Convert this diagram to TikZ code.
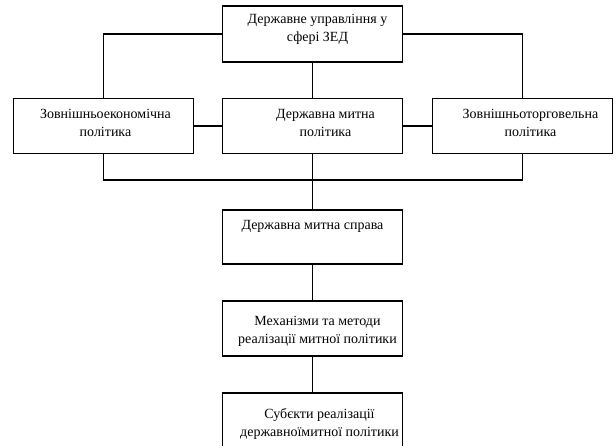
\documentclass[tikz,border=0pt]{standalone}
\usepackage{fontspec}
\setmainfont{Liberation Serif}
\usetikzlibrary{positioning}
\tikzset{
  blok/.style={draw, line width=1.6pt, minimum width=180pt, minimum height=55pt, inner sep=0pt},
  napys/.style={align=center, inner sep=0pt, font=\fontsize{14}{18}\selectfont},
}
\begin{document}
\begin{tikzpicture}[x=1pt, y=-1pt, line width=1.6pt]
  \useasboundingbox (0,0) rectangle (616,446);
  \clip (0,0) rectangle (616,446);
  % верхній рівень
  \node[blok, minimum height=56pt] (uprav) at (312.5,34) {};
  % три політики
  \node[blok] (econ) at (103.5,126) {};
  \node[blok] (mytna) at (312.5,126) {};
  \node[blok] (torg) at (522.5,126) {};
  % нижня гілка
  \node[blok, minimum height=54pt] (sprava) at (312.5,237) {};
  \node[blok] (metody) at (312.5,328.5) {};
  \node[blok, minimum height=80pt] (subj) at (312.5,433) {};
  % написи
  \node[napys, below=8pt of uprav.north, xshift=5pt] (uprav-t) {Державне управління у\\сфері ЗЕД};
  \node[napys, below=11pt of econ.north, xshift=2pt] (econ-t) {Зовнішньоекономічна\\політика};
  \node[napys, below=11pt of mytna.north, xshift=13pt] (mytna-t) {Державна митна\\політика};
  \node[napys, below=11pt of torg.north, xshift=8pt] (torg-t) {Зовнішньоторговельна\\політика};
  \node[napys, below=10pt of sprava.north] (sprava-t) {Державна митна справа};
  \node[napys, xshift=5pt, yshift=-3pt] (metody-t) at (metody) {Механізми та методи\\реалізації митної політики};
  \node[napys, below=15pt of subj.north, xshift=7pt] (subj-t) {Субєкти реалізації\\державноїмитної політики};
  % лінії
  \coordinate (niz) at (312.5,180);
  \draw (uprav.west) -| (econ.north);
  \draw (uprav.east) -| (torg.north);
  \draw (uprav.south) -- (mytna.north);
  \draw (econ.east) -- (mytna.west);
  \draw (mytna.east) -- (torg.west);
  \draw (econ.south) |- (niz) -| (torg.south);
  \draw (mytna.south) -- (sprava.north);
  \draw (sprava.south) -- (metody.north);
  \draw (metody.south) -- (subj.north);
\end{tikzpicture}
\end{document}
